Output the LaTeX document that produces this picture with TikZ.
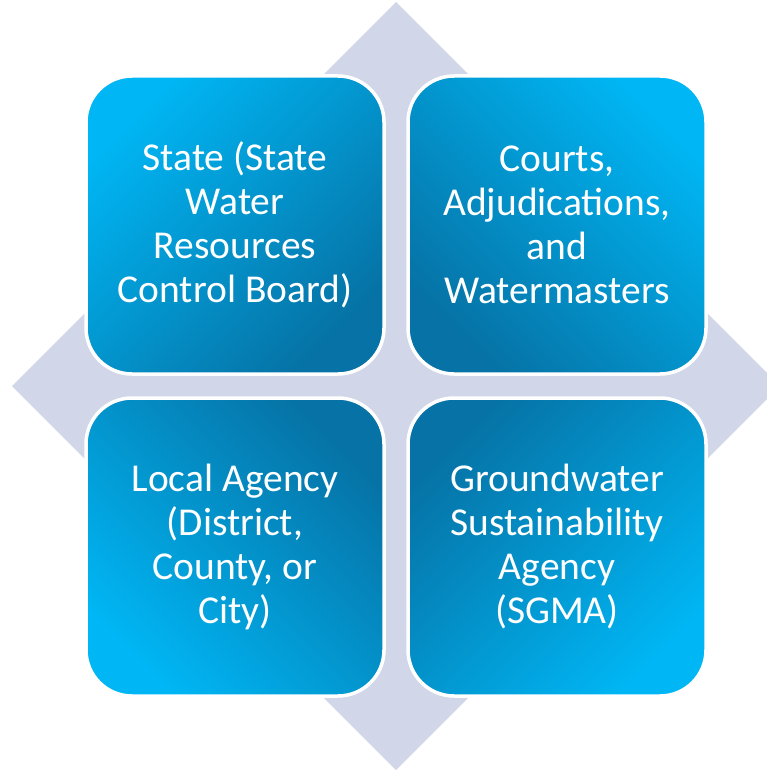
\documentclass[tikz,border=0pt]{standalone}
\usepackage{fontspec}
\setmainfont{Carlito}
\definecolor{diamondgrey}{RGB}{209,215,232}
\definecolor{quadlight}{RGB}{0,182,244}
\definecolor{quaddark}{RGB}{6,114,165}
\begin{document}
\begin{tikzpicture}[x=1pt,y=-1pt,
  quad/.style={rectangle, draw=white, line width=3.5pt, rounded corners=46pt,
    minimum width=298pt, minimum height=298pt, inner sep=0pt,
    top color=quadlight, bottom color=quaddark,
    text=white, align=center, font=\fontsize{39.5}{44}\selectfont}]
\useasboundingbox (0,0) rectangle (767,770);
\begin{scope}
  \clip (0,0) rectangle (767,770);
  \fill[diamondgrey] (396,2) -- (12,386) -- (396,770) -- (780,386) -- cycle;
\end{scope}
\node[quad, shading angle=45] (tl) at (235,225)
  {State (State\\Water\\Resources\\Control Board)};
\node[quad, shading angle=-45] (tr) at (557,225)
  {Courts,\\Adjudications,\\and\\Watermasters};
\node[quad, shading angle=135] (bl) at (235,547)
  {Local Agency\\(District,\\County, or\\City)};
\node[quad, shading angle=-135] (br) at (557,547)
  {Groundwater\\Sustainability\\Agency\\(SGMA)};
\end{tikzpicture}
\end{document}
